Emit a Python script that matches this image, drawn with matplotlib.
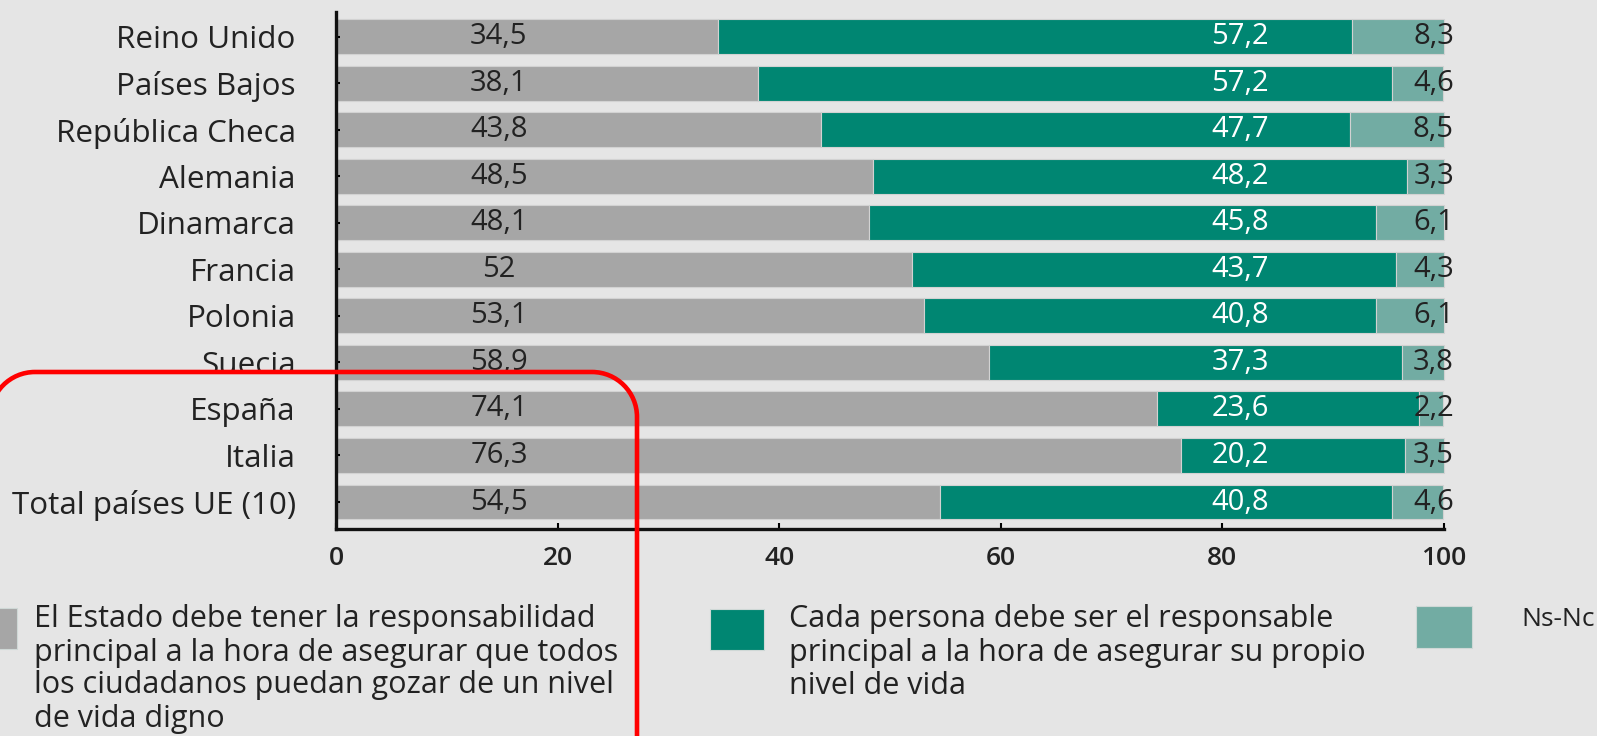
import matplotlib
matplotlib.use("Agg")
import matplotlib.pyplot as plt
from matplotlib.patches import Rectangle, PathPatch
from matplotlib.path import Path
from matplotlib.transforms import IdentityTransform

categories = ["Reino Unido", "Países Bajos", "República Checa", "Alemania", "Dinamarca",
              "Francia", "Polonia", "Suecia", "España", "Italia", "Total países UE (10)"]
estado = [34.5, 38.1, 43.8, 48.5, 48.1, 52, 53.1, 58.9, 74.1, 76.3, 54.5]
persona = [57.2, 57.2, 47.7, 48.2, 45.8, 43.7, 40.8, 37.3, 23.6, 20.2, 40.8]
nsnc = [8.3, 4.6, 8.5, 3.3, 6.1, 4.3, 6.1, 3.8, 2.2, 3.5, 4.6]
xticks = [0, 20, 40, 60, 80, 100]
legend_lines = [
    ["El Estado debe tener la responsabilidad",
     "principal a la hora de asegurar que todos",
     "los ciudadanos puedan gozar de un nivel",
     "de vida digno"],
    ["Cada persona debe ser el responsable",
     "principal a la hora de asegurar su propio",
     "nivel de vida"],
    ["Ns-Nc"],
]

def fmt(v):
    s = ("%.1f" % v).replace(".", ",")
    if s.endswith(",0"):
        s = s[:-2]
    return s

FONT = ["Open Sans", "DejaVu Sans"]
plt.rcParams["font.family"] = FONT
BG = "#e5e5e5"
C_GRAY = "#a6a6a6"
C_TEAL = "#008672"
C_LTEAL = "#72aca3"
TXT = "#222222"

W, H = 1597, 736
fig = plt.figure(figsize=(W / 100, H / 100), dpi=100, facecolor=BG)
ax = fig.add_axes([336 / W, 1 - 529 / H, (1444 - 336) / W, (529 - 12) / H], facecolor=BG)

y = list(range(len(categories)))
bh = 0.75
ec = "#d2d2d2"
ax.barh(y, estado, height=bh, color=C_GRAY, edgecolor=ec, linewidth=0.8, clip_on=False)
ax.barh(y, persona, left=estado, height=bh, color=C_TEAL, edgecolor=ec, linewidth=0.8, clip_on=False)
left3 = [a + b for a, b in zip(estado, persona)]
ax.barh(y, nsnc, left=left3, height=bh, color=C_LTEAL, edgecolor=ec, linewidth=0.8, clip_on=False)

vfs = 21
for i in y:
    ax.text(14.7, i, fmt(estado[i]), ha="center", va="center", color=TXT, fontsize=vfs)
    ax.text(81.6, i, fmt(persona[i]), ha="center", va="center", color="white", fontsize=vfs)
    ax.text(100.9, i, fmt(nsnc[i]), ha="right", va="center", color=TXT, fontsize=vfs, clip_on=False)

ax.set_xlim(0, 100)
ax.set_ylim(10.58, -0.53)
ax.set_yticks(y)
ax.set_yticklabels(categories, fontsize=22.6, color=TXT)
ax.set_xticks(xticks)
ax.set_xticklabels([str(t) for t in xticks], fontsize=19, color=TXT, fontweight="semibold")
for s in ["top", "right"]:
    ax.spines[s].set_visible(False)
for s in ["left", "bottom"]:
    ax.spines[s].set_linewidth(2.4)
    ax.spines[s].set_color("#111111")
ax.tick_params(axis="y", direction="in", length=3, width=1.5, pad=29)
ax.tick_params(axis="x", direction="in", length=4, width=1.5, pad=12)

# Legend (manual)
def px_rect(x0, y0top, w, h, color):
    fig.patches.append(Rectangle((x0, H - y0top - h), w, h, transform=IdentityTransform(),
                                 facecolor=color, edgecolor="#cfd8d6", linewidth=0.8))

px_rect(-38, 608, 55, 41, C_GRAY)
px_rect(710, 609, 54, 41, C_TEAL)
px_rect(1416, 606, 56, 42, C_LTEAL)
line_h = 33
for x0, lines, lfs in zip([34, 789, 1521], legend_lines, [22, 22, 19]):
    for k, line in enumerate(lines):
        fig.text(x0 / W, 1 - (616 + line_h * k) / H, line, ha="left", va="center_baseline",
                 fontsize=lfs, color=TXT)

# Red highlight frame (open at the bottom / left edge)
r = 45
kk = 0.5523
x0, x1, ytop, ybot = -10, 637, H - 372, -60
verts = [(x0, ybot), (x0, ytop - r),
         (x0, ytop - r + kk * r), (x0 + r - kk * r, ytop), (x0 + r, ytop),
         (x1 - r, ytop),
         (x1 - r + kk * r, ytop), (x1, ytop - r + kk * r), (x1, ytop - r),
         (x1, ybot)]
codes = [Path.MOVETO, Path.LINETO,
         Path.CURVE4, Path.CURVE4, Path.CURVE4,
         Path.LINETO,
         Path.CURVE4, Path.CURVE4, Path.CURVE4,
         Path.LINETO]
fig.patches.append(PathPatch(Path(verts, codes), transform=IdentityTransform(),
                             facecolor="none", edgecolor="#ff0000", linewidth=3.3, zorder=10))

fig.savefig("out.png", dpi=100, facecolor=BG)
